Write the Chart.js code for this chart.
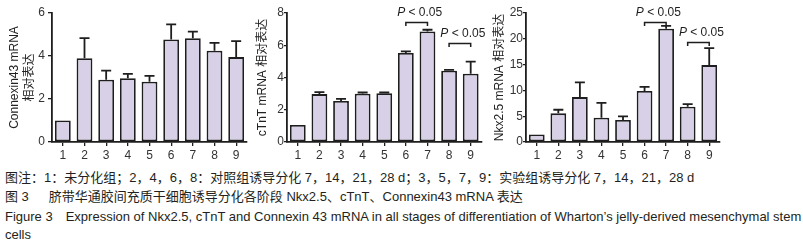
<!DOCTYPE html>
<html>
<head>
<meta charset="utf-8">
<script src="https://cdn.jsdelivr.net/npm/chart.js@4"></script>
<style>
  html, body { margin: 0; padding: 0; background: #fff; }
  body { width: 803px; height: 245px; position: relative; overflow: hidden; }
  .panel { position: absolute; top: 0; height: 168px; }
  .cap { position: absolute; left: 5px; white-space: nowrap; color: #231f20;
         font-family: "Liberation Sans", "Noto Sans CJK SC", sans-serif; font-size: 13px; line-height: 15px; }
  .gap { display: inline-block; }
</style>
</head>
<body>
<div class="panel" style="left:0;width:256px"><canvas id="cx43" width="256" height="168"></canvas></div>
<div class="panel" style="left:255px;width:235px"><canvas id="ctnt" width="235" height="168"></canvas></div>
<div class="panel" style="left:490px;width:240px"><canvas id="nkx" width="240" height="168"></canvas></div>

<div class="cap" style="top:170px">图注：1：未分化组；2，4，6，8：对照组诱导分化 7，14，21，28 d；3，5，7，9：实验组诱导分化 7，14，21，28 d</div>
<div class="cap" style="top:189px">图 3<span class="gap" style="width:20px"></span>脐带华通胶间充质干细胞诱导分化各阶段 Nkx2.5、cTnT、Connexin43 mRNA 表达</div>
<div class="cap" style="top:209px">Figure 3<span class="gap" style="width:13px"></span>Expression of Nkx2.5, cTnT and Connexin 43 mRNA in all stages of differentiation of Wharton’s jelly-derived mesenchymal stem</div>
<div class="cap" style="top:227px">cells</div>

<script>
// groups 1..9
const groups = ['1', '2', '3', '4', '5', '6', '7', '8', '9'];

// Connexin43 mRNA relative expression (mean, SD)
const cx43Mean = [1.0, 3.9, 2.9, 2.97, 2.8, 4.77, 4.83, 4.25, 3.95];
const cx43Err  = [0, 0.93, 0.42, 0.2, 0.28, 0.7, 0.3, 0.36, 0.74];

// cTnT mRNA
const ctntMean = [1.05, 2.97, 2.55, 3.0, 3.02, 5.52, 6.86, 4.42, 4.24];
const ctntErr  = [0, 0.12, 0.13, 0.07, 0.05, 0.1, 0.1, 0.05, 0.74];

// Nkx2.5 mRNA
const nkxMean = [1.45, 5.55, 8.7, 4.7, 4.25, 9.9, 21.95, 6.85, 14.9];
const nkxErr  = [0, 0.7, 2.85, 2.9, 0.7, 0.8, 0.55, 0.5, 3.3];

// significance brackets: [from group index, to group index, y value]
const ctntSig = [[5, 6, 7.42], [7, 8, 6.16]];
const nkxSig  = [[5, 6, 23.25], [7, 8, 19.4]];
const sigText = '0.05';

const INK = '#1e1e1e';
const BAR_FILL = '#d8d0e7';

// error bars + P brackets, drawn with the chart's own scales
const extras = {
    id: 'extras',
    afterDatasetsDraw(chart, args, opts) {
        const ctx = chart.ctx;
        const y = chart.scales.y;
        const bars = chart.getDatasetMeta(0).data;
        ctx.save();
        ctx.strokeStyle = INK;
        ctx.lineWidth = 1.8;
        opts.err.forEach((e, i) => {
            if (!e) return;
            const x = bars[i].x;
            const top = y.getPixelForValue(opts.mean[i] + e);
            ctx.beginPath();
            ctx.moveTo(x, bars[i].y);
            ctx.lineTo(x, top);
            ctx.moveTo(x - 5, top);
            ctx.lineTo(x + 5, top);
            ctx.stroke();
        });
        (opts.sig || []).forEach(([a, b, v]) => {
            const x1 = bars[a].x, x2 = bars[b].x;
            const py = Math.round(y.getPixelForValue(v)) + 0.5;
            ctx.lineWidth = 1.5;
            ctx.beginPath();
            ctx.moveTo(x1, py + 3.5);
            ctx.lineTo(x1, py);
            ctx.lineTo(x2, py);
            ctx.lineTo(x2, py + 3.5);
            ctx.stroke();
            // "P < 0.05" with italic P
            const cx = (x1 + x2) / 2 + 3;
            ctx.fillStyle = INK;
            ctx.textBaseline = 'middle';
            ctx.font = 'italic 12px "Liberation Sans"';
            const pW = ctx.measureText('P').width;
            ctx.font = '12px "Liberation Sans"';
            const rest = ' < ' + sigText;
            const rW = ctx.measureText(rest).width;
            const sx = cx - (pW + rW) / 2;
            ctx.font = 'italic 12px "Liberation Sans"';
            ctx.fillText('P', sx, py - 10);
            ctx.font = '12px "Liberation Sans"';
            ctx.fillText(rest, sx + pW, py - 10);
        });
        ctx.restore();
    }
};

function makeChart(id, cfg) {
    return new Chart(document.getElementById(id), {
        type: 'bar',
        data: {
            labels: groups,
            datasets: [{
                data: cfg.mean,
                backgroundColor: BAR_FILL,
                borderColor: INK,
                borderWidth: 1.8,
                borderSkipped: false,
                barPercentage: 0.73,
                categoryPercentage: 1
            }]
        },
        options: {
            responsive: false,
            animation: false,
            layout: { padding: { top: 13, right: cfg.padRight, bottom: 0, left: 0 } },
            plugins: {
                legend: { display: false },
                tooltip: { enabled: false },
                extras: { mean: cfg.mean, err: cfg.err, sig: cfg.sig }
            },
            scales: {
                x: {
                    afterFit: s => { s.height = 26; },
                    grid: { offset: false, drawOnChartArea: false, tickLength: 4, color: INK, lineWidth: 1.3 },
                    border: { color: INK, width: 1.8 },
                    ticks: { color: '#333', font: { family: 'Liberation Sans', size: 12 }, padding: 2, maxRotation: 0 }
                },
                y: {
                    min: 0,
                    max: cfg.max,
                    afterFit: s => { s.width = cfg.yWidth; },
                    grid: { drawOnChartArea: false, tickLength: cfg.tickLen, color: INK, lineWidth: 1.3 },
                    border: { color: INK, width: 1.8 },
                    ticks: { stepSize: cfg.step, color: '#333', font: { family: 'Liberation Sans', size: 12 }, padding: cfg.tickPad },
                    title: {
                        display: true,
                        text: cfg.title,
                        color: '#222',
                        font: { family: 'Liberation Sans, Noto Sans CJK SC', size: 12, lineHeight: cfg.titleLH },
                        padding: { top: cfg.titlePad, bottom: 0 }
                    }
                }
            }
        },
        plugins: [extras]
    });
}

makeChart('cx43', {
    mean: cx43Mean, err: cx43Err, max: 6, step: 2,
    title: ['Connexin43 mRNA', '相对表达'], titleLH: 1.25, titlePad: 7.5,
    yWidth: 52, padRight: 9, tickLen: 4, tickPad: 3
});
makeChart('ctnt', {
    mean: ctntMean, err: ctntErr, sig: ctntSig, max: 8, step: 2,
    title: 'cTnT mRNA 相对表达', titleLH: 1.2, titlePad: 0,
    yWidth: 32, padRight: 8.5, tickLen: 3, tickPad: 0
});
makeChart('nkx', {
    mean: nkxMean, err: nkxErr, sig: nkxSig, max: 25, step: 5,
    title: 'Nkx2.5 mRNA 相对表达', titleLH: 1.2, titlePad: 2.8,
    yWidth: 36, padRight: 10, tickLen: 3, tickPad: 0
});
</script>
</body>
</html>
